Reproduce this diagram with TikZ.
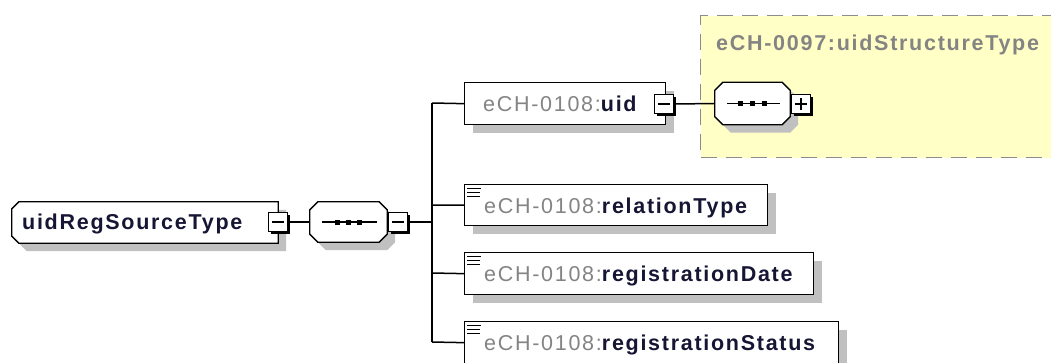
\documentclass[tikz,border=0pt]{standalone}
\usepackage{fontspec}
\setmainfont{Liberation Sans}
\newfontfamily\lsfont[LetterSpace=8]{Liberation Sans}
\usetikzlibrary{shadows}
\definecolor{shadowc}{HTML}{C0C0C0}
\definecolor{pfx}{HTML}{848484}
\definecolor{nm}{HTML}{161634}
\definecolor{yfill}{HTML}{FFFFC6}
\definecolor{dashc}{HTML}{8C8C8C}
\newcommand\txtf{\lsfont\fontsize{21.5}{25}\selectfont}
% octagon outline around a node (all corners cut)
\newcommand\octshape[2]{([xshift=#2]#1.north west) -- ([xshift=-#2]#1.north east) -- ([yshift=-#2]#1.north east) -- ([yshift=#2]#1.south east) -- ([xshift=-#2]#1.south east) -- ([xshift=#2]#1.south west) -- ([yshift=#2]#1.south west) -- ([yshift=-#2]#1.north west) -- cycle}
% left corners cut only
\newcommand\leftcut[2]{([xshift=#2]#1.north west) -- (#1.north east) -- (#1.south east) -- ([xshift=#2]#1.south west) -- ([yshift=#2]#1.south west) -- ([yshift=-#2]#1.north west) -- cycle}
\begin{document}
\begin{tikzpicture}[x=1pt,y=-1pt,
  sh/.style={drop shadow={shadow xshift=8pt,shadow yshift=-8pt,fill=shadowc,opacity=1}},
  ebox/.style={draw=black,line width=1.3pt,fill=white,rectangle,sh,inner sep=0pt,anchor=north west},
  hold/.style={rectangle,inner sep=0pt,minimum height=41pt},
  shp/.style={draw=black,line width=1.3pt,fill=white},
  sq/.style={draw=black,fill=white,line width=1.2pt,minimum size=19pt,inner sep=0pt,
     drop shadow={shadow xshift=2.5pt,shadow yshift=-2.5pt,fill=black,opacity=1}},
  conn/.style={line width=1.5pt,black},
  lbl/.style={anchor=base west,inner sep=0pt,font=\txtf},
  icon/.style={line width=1.6pt,black},
  seqline/.style={line width=1.3pt}
]
\clip (0,0) rectangle (1051,362);
\fill[white] (0,0) rectangle (1051,362);

% yellow complex type region
\node[draw=dashc,fill=yfill,line width=1.3pt,dash pattern=on 16pt off 9pt,rectangle,anchor=north west,inner sep=0pt,minimum width=370pt,minimum height=142pt] (ybox) at (700,15) {};
\node[lbl,text=pfx] (ytitle) at (716,50) {\bfseries eCH-0097:uidStructureType};

% placeholders for shaped outlines
\node[hold,minimum width=266pt] (root) at (145,222.5) {};
\node[hold,minimum width=77pt,minimum height=40pt] (seq) at (348.5,222) {};
\node[hold,minimum width=75pt,minimum height=42pt] (seq2) at (752.5,103.5) {};

\begin{scope}[transform canvas={xshift=8pt,yshift=-8pt}]
  \fill[shadowc] \leftcut{root}{7pt};
  \fill[shadowc] \octshape{seq}{8pt};
  \fill[shadowc] \octshape{seq2}{8pt};
\end{scope}
\draw[shp] \leftcut{root}{7pt};
\draw[shp] \octshape{seq}{8pt};
\draw[shp] \octshape{seq2}{8pt};

% root
\node[lbl,text=nm] (roott) at (22,229.5) {\bfseries uidRegSourceType};
\node[sq] (m1) at (278,222) {};
\draw[line width=1.2pt] ([xshift=4pt]m1.west) -- ([xshift=-4pt]m1.east);

% sequence
\draw[seqline] ([xshift=12pt]seq.west) -- ([xshift=-10pt]seq.east);
\foreach \dx in {-11,0,11} \fill ([xshift=\dx pt]seq.center) ++(-2.5,-2.5) rectangle ++(5,5);
\node[sq] (m2) at (398,222) {};
\draw[line width=1.2pt] ([xshift=4pt]m2.west) -- ([xshift=-4pt]m2.east);

\draw[conn] (m1.east) -- (seq.west);
\coordinate (bustop) at (432,103);
\coordinate (busbot) at (432,342);
\coordinate (busmid) at (432,222);
\draw[conn] (m2.east) -- (busmid);
\draw[conn] (bustop) -- (busbot);

% uid
\node[ebox,minimum width=201pt,minimum height=42pt] (uid) at (464,82) {};
\node[lbl] (uidt) at (483,111) {\textcolor{pfx}{eCH-0108:}\textcolor{nm}{\bfseries uid}};
\node[sq] (m3) at (664,104) {};
\draw[line width=1.2pt] ([xshift=4pt]m3.west) -- ([xshift=-4pt]m3.east);
\draw[conn] (bustop) -- (uid.west);

% inner sequence
\draw[seqline] ([xshift=12pt]seq2.west) -- ([xshift=-10pt]seq2.east);
\foreach \dx in {-12,0,12} \fill ([xshift=\dx pt]seq2.center) ++(-2.5,-2.5) rectangle ++(5,5);
\node[sq] (p1) at (801,104) {};
\draw[line width=1.2pt] ([xshift=4pt]p1.west) -- ([xshift=-4pt]p1.east)
                        ([yshift=4pt]p1.south) -- ([yshift=-4pt]p1.north);
\draw[conn] (m3.east) -- (seq2.west);

% relationType
\node[ebox,minimum width=303pt,minimum height=41pt] (rel) at (464,184) {};
\node[lbl] (relt) at (484,213.5) {\textcolor{pfx}{eCH-0108:}\textcolor{nm}{\bfseries relationType}};
\draw[icon] (467,188.5) -- (481,188.5) (467,192.5) -- (480,192.5) (467,196.5) -- (480,196.5);
\draw[conn] (432,205) -- (rel.west);

% registrationDate
\node[ebox,minimum width=349pt,minimum height=42pt] (date) at (464,252) {};
\node[lbl] (datet) at (484,281.5) {\textcolor{pfx}{eCH-0108:}\textcolor{nm}{\bfseries registrationDate}};
\draw[icon] (467,256.5) -- (481,256.5) (467,260.5) -- (480,260.5) (467,264.5) -- (480,264.5);
\draw[conn] (432,273) -- (date.west);

% registrationStatus
\node[ebox,minimum width=374pt,minimum height=42pt] (stat) at (464,321) {};
\node[lbl] (statt) at (484,350.5) {\textcolor{pfx}{eCH-0108:}\textcolor{nm}{\bfseries registrationStatus}};
\draw[icon] (467,325.5) -- (481,325.5) (467,329.5) -- (480,329.5) (467,333.5) -- (480,333.5);
\draw[conn] (busbot) -- (stat.west);
\end{tikzpicture}
\end{document}
